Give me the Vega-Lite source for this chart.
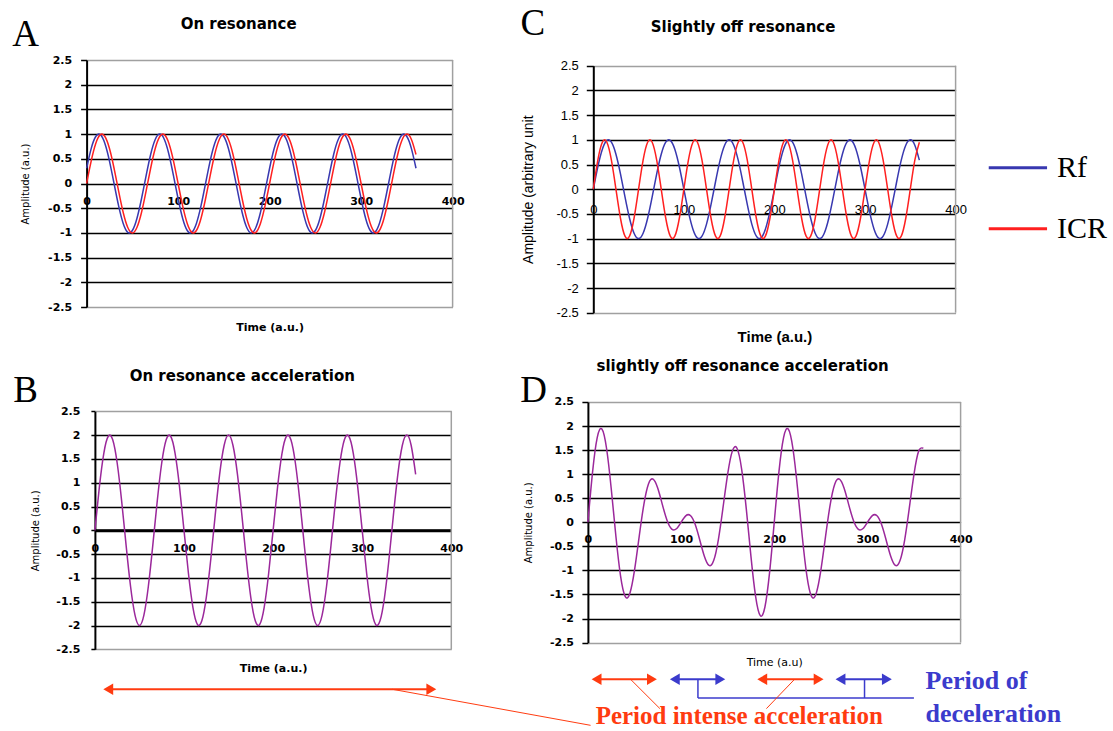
{
"$schema":"https://vega.github.io/schema/vega-lite/v6.json",
"background":"white",
"padding":{"left":11.6,"top":5,"right":4,"bottom":0},
"config":{"view":{"stroke":null},"axis":{"labelColor":"black","titleColor":"black","labelFlush":false,"labelOverlap":false}},
"datasets":{
"signal":[
{"t":0,"rfA":0.309,"icrA":0,"accB":0,"rfC":0,"icrC":0,"accD":0},
{"t":5,"rfA":0.707,"icrA":0.454,"accB":0.908,"rfC":0.454,"icrC":0.588,"accD":1.042},
{"t":10,"rfA":0.951,"icrA":0.809,"accB":1.618,"rfC":0.809,"icrC":0.951,"accD":1.76},
{"t":15,"rfA":0.988,"icrA":0.988,"accB":1.976,"rfC":0.988,"icrC":0.951,"accD":1.939},
{"t":20,"rfA":0.809,"icrA":0.951,"accB":1.902,"rfC":0.951,"icrC":0.588,"accD":1.539},
{"t":25,"rfA":0.454,"icrA":0.707,"accB":1.414,"rfC":0.707,"icrC":0,"accD":0.707},
{"t":30,"rfA":0,"icrA":0.309,"accB":0.618,"rfC":0.309,"icrC":-0.588,"accD":-0.279},
{"t":35,"rfA":-0.454,"icrA":-0.156,"accB":-0.312,"rfC":-0.156,"icrC":-0.951,"accD":-1.107},
{"t":40,"rfA":-0.809,"icrA":-0.588,"accB":-1.176,"rfC":-0.588,"icrC":-0.951,"accD":-1.539},
{"t":45,"rfA":-0.988,"icrA":-0.891,"accB":-1.782,"rfC":-0.891,"icrC":-0.588,"accD":-1.479},
{"t":50,"rfA":-0.951,"icrA":-1,"accB":-2,"rfC":-1,"icrC":0,"accD":-1},
{"t":55,"rfA":-0.707,"icrA":-0.891,"accB":-1.782,"rfC":-0.891,"icrC":0.588,"accD":-0.303},
{"t":60,"rfA":-0.309,"icrA":-0.588,"accB":-1.176,"rfC":-0.588,"icrC":0.951,"accD":0.363},
{"t":65,"rfA":0.156,"icrA":-0.156,"accB":-0.312,"rfC":-0.156,"icrC":0.951,"accD":0.795},
{"t":70,"rfA":0.588,"icrA":0.309,"accB":0.618,"rfC":0.309,"icrC":0.588,"accD":0.897},
{"t":75,"rfA":0.891,"icrA":0.707,"accB":1.414,"rfC":0.707,"icrC":0,"accD":0.707},
{"t":80,"rfA":1,"icrA":0.951,"accB":1.902,"rfC":0.951,"icrC":-0.588,"accD":0.363},
{"t":85,"rfA":0.891,"icrA":0.988,"accB":1.976,"rfC":0.988,"icrC":-0.951,"accD":0.037},
{"t":90,"rfA":0.588,"icrA":0.809,"accB":1.618,"rfC":0.809,"icrC":-0.951,"accD":-0.142},
{"t":95,"rfA":0.156,"icrA":0.454,"accB":0.908,"rfC":0.454,"icrC":-0.588,"accD":-0.134},
{"t":100,"rfA":-0.309,"icrA":0,"accB":0,"rfC":0,"icrC":0,"accD":0},
{"t":105,"rfA":-0.707,"icrA":-0.454,"accB":-0.908,"rfC":-0.454,"icrC":0.588,"accD":0.134},
{"t":110,"rfA":-0.951,"icrA":-0.809,"accB":-1.618,"rfC":-0.809,"icrC":0.951,"accD":0.142},
{"t":115,"rfA":-0.988,"icrA":-0.988,"accB":-1.976,"rfC":-0.988,"icrC":0.951,"accD":-0.037},
{"t":120,"rfA":-0.809,"icrA":-0.951,"accB":-1.902,"rfC":-0.951,"icrC":0.588,"accD":-0.363},
{"t":125,"rfA":-0.454,"icrA":-0.707,"accB":-1.414,"rfC":-0.707,"icrC":0,"accD":-0.707},
{"t":130,"rfA":0,"icrA":-0.309,"accB":-0.618,"rfC":-0.309,"icrC":-0.588,"accD":-0.897},
{"t":135,"rfA":0.454,"icrA":0.156,"accB":0.312,"rfC":0.156,"icrC":-0.951,"accD":-0.795},
{"t":140,"rfA":0.809,"icrA":0.588,"accB":1.176,"rfC":0.588,"icrC":-0.951,"accD":-0.363},
{"t":145,"rfA":0.988,"icrA":0.891,"accB":1.782,"rfC":0.891,"icrC":-0.588,"accD":0.303},
{"t":150,"rfA":0.951,"icrA":1,"accB":2,"rfC":1,"icrC":0,"accD":1},
{"t":155,"rfA":0.707,"icrA":0.891,"accB":1.782,"rfC":0.891,"icrC":0.588,"accD":1.479},
{"t":160,"rfA":0.309,"icrA":0.588,"accB":1.176,"rfC":0.588,"icrC":0.951,"accD":1.539},
{"t":165,"rfA":-0.156,"icrA":0.156,"accB":0.312,"rfC":0.156,"icrC":0.951,"accD":1.107},
{"t":170,"rfA":-0.588,"icrA":-0.309,"accB":-0.618,"rfC":-0.309,"icrC":0.588,"accD":0.279},
{"t":175,"rfA":-0.891,"icrA":-0.707,"accB":-1.414,"rfC":-0.707,"icrC":0,"accD":-0.707},
{"t":180,"rfA":-1,"icrA":-0.951,"accB":-1.902,"rfC":-0.951,"icrC":-0.588,"accD":-1.539},
{"t":185,"rfA":-0.891,"icrA":-0.988,"accB":-1.976,"rfC":-0.988,"icrC":-0.951,"accD":-1.939},
{"t":190,"rfA":-0.588,"icrA":-0.809,"accB":-1.618,"rfC":-0.809,"icrC":-0.951,"accD":-1.76},
{"t":195,"rfA":-0.156,"icrA":-0.454,"accB":-0.908,"rfC":-0.454,"icrC":-0.588,"accD":-1.042},
{"t":200,"rfA":0.309,"icrA":0,"accB":0,"rfC":0,"icrC":0,"accD":0},
{"t":205,"rfA":0.707,"icrA":0.454,"accB":0.908,"rfC":0.454,"icrC":0.588,"accD":1.042},
{"t":210,"rfA":0.951,"icrA":0.809,"accB":1.618,"rfC":0.809,"icrC":0.951,"accD":1.76},
{"t":215,"rfA":0.988,"icrA":0.988,"accB":1.976,"rfC":0.988,"icrC":0.951,"accD":1.939},
{"t":220,"rfA":0.809,"icrA":0.951,"accB":1.902,"rfC":0.951,"icrC":0.588,"accD":1.539},
{"t":225,"rfA":0.454,"icrA":0.707,"accB":1.414,"rfC":0.707,"icrC":0,"accD":0.707},
{"t":230,"rfA":0,"icrA":0.309,"accB":0.618,"rfC":0.309,"icrC":-0.588,"accD":-0.279},
{"t":235,"rfA":-0.454,"icrA":-0.156,"accB":-0.312,"rfC":-0.156,"icrC":-0.951,"accD":-1.107},
{"t":240,"rfA":-0.809,"icrA":-0.588,"accB":-1.176,"rfC":-0.588,"icrC":-0.951,"accD":-1.539},
{"t":245,"rfA":-0.988,"icrA":-0.891,"accB":-1.782,"rfC":-0.891,"icrC":-0.588,"accD":-1.479},
{"t":250,"rfA":-0.951,"icrA":-1,"accB":-2,"rfC":-1,"icrC":0,"accD":-1},
{"t":255,"rfA":-0.707,"icrA":-0.891,"accB":-1.782,"rfC":-0.891,"icrC":0.588,"accD":-0.303},
{"t":260,"rfA":-0.309,"icrA":-0.588,"accB":-1.176,"rfC":-0.588,"icrC":0.951,"accD":0.363},
{"t":265,"rfA":0.156,"icrA":-0.156,"accB":-0.312,"rfC":-0.156,"icrC":0.951,"accD":0.795},
{"t":270,"rfA":0.588,"icrA":0.309,"accB":0.618,"rfC":0.309,"icrC":0.588,"accD":0.897},
{"t":275,"rfA":0.891,"icrA":0.707,"accB":1.414,"rfC":0.707,"icrC":0,"accD":0.707},
{"t":280,"rfA":1,"icrA":0.951,"accB":1.902,"rfC":0.951,"icrC":-0.588,"accD":0.363},
{"t":285,"rfA":0.891,"icrA":0.988,"accB":1.976,"rfC":0.988,"icrC":-0.951,"accD":0.037},
{"t":290,"rfA":0.588,"icrA":0.809,"accB":1.618,"rfC":0.809,"icrC":-0.951,"accD":-0.142},
{"t":295,"rfA":0.156,"icrA":0.454,"accB":0.908,"rfC":0.454,"icrC":-0.588,"accD":-0.134},
{"t":300,"rfA":-0.309,"icrA":0,"accB":0,"rfC":0,"icrC":0,"accD":0},
{"t":305,"rfA":-0.707,"icrA":-0.454,"accB":-0.908,"rfC":-0.454,"icrC":0.588,"accD":0.134},
{"t":310,"rfA":-0.951,"icrA":-0.809,"accB":-1.618,"rfC":-0.809,"icrC":0.951,"accD":0.142},
{"t":315,"rfA":-0.988,"icrA":-0.988,"accB":-1.976,"rfC":-0.988,"icrC":0.951,"accD":-0.037},
{"t":320,"rfA":-0.809,"icrA":-0.951,"accB":-1.902,"rfC":-0.951,"icrC":0.588,"accD":-0.363},
{"t":325,"rfA":-0.454,"icrA":-0.707,"accB":-1.414,"rfC":-0.707,"icrC":0,"accD":-0.707},
{"t":330,"rfA":0,"icrA":-0.309,"accB":-0.618,"rfC":-0.309,"icrC":-0.588,"accD":-0.897},
{"t":335,"rfA":0.454,"icrA":0.156,"accB":0.312,"rfC":0.156,"icrC":-0.951,"accD":-0.795},
{"t":340,"rfA":0.809,"icrA":0.588,"accB":1.176,"rfC":0.588,"icrC":-0.951,"accD":-0.363},
{"t":345,"rfA":0.988,"icrA":0.891,"accB":1.782,"rfC":0.891,"icrC":-0.588,"accD":0.303},
{"t":350,"rfA":0.951,"icrA":1,"accB":2,"rfC":1,"icrC":0,"accD":1},
{"t":355,"rfA":0.707,"icrA":0.891,"accB":1.782,"rfC":0.891,"icrC":0.588,"accD":1.479},
{"t":360,"rfA":0.309,"icrA":0.588,"accB":1.176,"rfC":0.588,"icrC":0.951,"accD":1.539}
],
"arrowsB":[{"start":15,"end":377.6,"phase":"acceleration"}],
"arrowsD":[
{"start":9.3,"end":68.7,"phase":"acceleration"},
{"start":93.3,"end":142.1,"phase":"deceleration"},
{"start":187.1,"end":247.6,"phase":"acceleration"},
{"start":271.1,"end":320.9,"phase":"deceleration"}
]
},
"columns":2,
"spacing":{"row":89,"column":135.3},
"bounds":"flush",
"resolve":{"scale":{"color":"independent"},"legend":{"color":"independent"}},
"concat":[
{
"width":366,"height":247,
"title":{"text":"On resonance","frame":"group","anchor":"middle","dx":-31,"offset":-15.7,"font":"DejaVu Sans","fontSize":15,"fontWeight":"bold","color":"black"},
"layer":[
{"data":{"name":"signal"},"mark":{"type":"line","color":"#3838b0","strokeWidth":1.5,"interpolate":"natural"},
"encoding":{
"x":{"field":"t","type":"quantitative","scale":{"domain":[0,400],"nice":false,"zero":false},
"axis":{"orient":"bottom","offset":-123.5,"values":[0,100,200,300,400],"tickCount":20,"ticks":false,"domain":false,"grid":false,"labelPadding":11.5,"labelFont":"DejaVu Sans","labelFontSize":11,"labelFontWeight":"bold","labelExpr":"datum.value + ''","title":"Time (a.u.)","titleFont":"DejaVu Sans","titleFontSize":11,"titleFontWeight":"bold","titleY":144.3,"titleBaseline":"middle"}},
"y":{"field":"rfA","type":"quantitative","scale":{"domain":[-2.5,2.5],"nice":false,"zero":false},
"axis":{"values":[-2.5,-2,-1.5,-1,-0.5,0,0.5,1,1.5,2,2.5],"tickCount":20,"grid":true,"gridColor":{"condition":{"test":"abs(datum.value) > 2.4","value":"#a0a0a0"},"value":"black"},"gridWidth":1.5,"domain":true,"domainColor":"black","domainWidth":2,"ticks":true,"tickSize":6,"tickColor":"black","tickWidth":1.5,"labelPadding":9,"labelFont":"DejaVu Sans","labelFontSize":11,"labelFontWeight":"bold","labelExpr":"datum.value + ''","title":"Amplitude (a.u.)","titleFont":"DejaVu Sans","titleFontSize":10,"titleFontWeight":"normal","titleX":-61,"titleBaseline":"middle"}}}},
{"data":{"name":"signal"},"mark":{"type":"line","color":"#ff2020","strokeWidth":1.5,"interpolate":"natural"},
"encoding":{"x":{"field":"t","type":"quantitative"},"y":{"field":"icrA","type":"quantitative"}}},
{"data":{"values":[{}]},"mark":{"type":"rule","color":"#a0a0a0","strokeWidth":1.5},"encoding":{"x":{"datum":400},"y":{"datum":-2.5},"y2":{"datum":2.5}}},
{"data":{"values":[{}]},"mark":{"type":"text","text":"A","font":"Liberation Serif","fontSize":37,"align":"center","baseline":"alphabetic","color":"black"},"encoding":{"x":{"datum":-66.7},"y":{"datum":2.783}}}
]
},
{
"width":368,"height":252.7,
"title":{"text":"Slightly off resonance","frame":"group","anchor":"middle","dx":-28.8,"offset":-30.4,"font":"DejaVu Sans","fontSize":15,"fontWeight":"bold","color":"black"},
"layer":[
{"data":{"name":"signal"},"transform":[{"fold":["rfC","icrC"],"as":["series","amp"]}],
"mark":{"type":"line","strokeWidth":1.5,"interpolate":"natural"},
"encoding":{
"x":{"field":"t","type":"quantitative","scale":{"domain":[0,400],"nice":false,"zero":false,"range":[5.4,367.7]},
"axis":{"orient":"bottom","offset":-123.5,"values":[0,100,200,300,400],"tickCount":20,"ticks":false,"domain":false,"grid":false,"labelPadding":14,"labelFont":"Liberation Sans","labelFontSize":13,"labelFontWeight":"normal","labelExpr":"datum.value + ''","title":"Time (a.u.)","titleFont":"Liberation Sans","titleFontSize":15,"titleFontWeight":"bold","titleY":147.5,"titleBaseline":"middle"}},
"y":{"field":"amp","type":"quantitative","scale":{"domain":[-2.5,2.5],"nice":false,"zero":false,"range":[252.7,5.7]},
"axis":{"offset":-5.4,"values":[-2.5,-2,-1.5,-1,-0.5,0,0.5,1,1.5,2,2.5],"tickCount":20,"grid":true,"gridColor":{"condition":{"test":"abs(datum.value) > 2.4","value":"#a0a0a0"},"value":"black"},"gridWidth":1.5,"domain":true,"domainColor":"black","domainWidth":2,"ticks":true,"tickSize":7,"tickColor":"black","tickWidth":1.5,"labelPadding":8,"labelFont":"Liberation Sans","labelFontSize":13,"labelFontWeight":"normal","labelExpr":"datum.value + ''","title":"Amplitude (arbitrary unit","titleFont":"Liberation Sans","titleFontSize":14,"titleFontWeight":"normal","titleX":-64.4,"titleBaseline":"middle"}},
"color":{"field":"series","type":"nominal","scale":{"domain":["rfC","icrC"],"range":["#3838b0","#ff2020"]},
"legend":{"orient":"none","legendX":399,"legendY":76.7,"title":null,"symbolType":"stroke","symbolSize":3400,"symbolStrokeWidth":3,"labelFont":"Liberation Serif","labelFontSize":30,"labelColor":"black","labelOffset":8,"rowPadding":15,"padding":0,"labelExpr":"datum.label == 'rfC' ? 'Rf' : 'ICR'"}}}},
{"data":{"values":[{}]},"mark":{"type":"rule","color":"#a0a0a0","strokeWidth":1.5},"encoding":{"x":{"datum":400},"y":{"datum":-2.5},"y2":{"datum":2.5}}},
{"data":{"values":[{}]},"mark":{"type":"text","text":"C","font":"Liberation Serif","fontSize":37,"align":"center","baseline":"alphabetic","color":"black"},"encoding":{"x":{"datum":-66.7},"y":{"datum":3.121}}}
]
},
{
"width":365,"height":247.3,
"title":{"text":"On resonance acceleration","frame":"group","anchor":"middle","dx":-26.8,"offset":-12,"font":"DejaVu Sans","fontSize":15,"fontWeight":"bold","color":"black"},
"layer":[
{"data":{"name":"signal"},"mark":{"type":"line","color":"#9b289b","strokeWidth":1.5,"interpolate":"natural"},
"encoding":{
"x":{"field":"t","type":"quantitative","scale":{"domain":[0,400],"nice":false,"zero":false,"range":[8.3,364.7]},
"axis":{"orient":"bottom","offset":-119,"values":[0,100,200,300,400],"tickCount":20,"ticks":false,"domain":true,"domainColor":"black","domainWidth":3,"grid":false,"labelPadding":12,"labelFont":"DejaVu Sans","labelFontSize":11,"labelFontWeight":"bold","labelExpr":"datum.value + ''","title":"Time (a.u.)","titleFont":"DejaVu Sans","titleFontSize":11,"titleFontWeight":"bold","titleY":138.3,"titleBaseline":"middle"}},
"y":{"field":"accB","type":"quantitative","scale":{"domain":[-2.5,2.5],"nice":false,"zero":false,"range":[247.3,9.3]},
"axis":{"offset":-8.3,"values":[-2.5,-2,-1.5,-1,-0.5,0,0.5,1,1.5,2,2.5],"tickCount":20,"grid":true,"gridColor":{"condition":{"test":"abs(datum.value) > 2.4","value":"#a0a0a0"},"value":"black"},"gridWidth":1.5,"domain":true,"domainColor":"black","domainWidth":2,"ticks":true,"tickSize":4,"tickColor":"black","tickWidth":1.5,"labelPadding":11,"labelFont":"DejaVu Sans","labelFontSize":11,"labelFontWeight":"bold","labelExpr":"datum.value + ''","title":"Amplitude (a.u.)","titleFont":"DejaVu Sans","titleFontSize":10,"titleFontWeight":"normal","titleX":-59.3,"titleBaseline":"middle"}}}},
{"data":{"values":[{}]},"mark":{"type":"rule","color":"#a0a0a0","strokeWidth":1.5},"encoding":{"x":{"datum":400},"y":{"datum":-2.5},"y2":{"datum":2.5}}},
{"data":{"values":[{}]},"mark":{"type":"text","text":"B","font":"Liberation Serif","fontSize":37,"align":"center","baseline":"alphabetic","color":"black"},"encoding":{"x":{"datum":-77.8},"y":{"datum":2.695}}},
{"data":{"name":"arrowsB"},"mark":{"type":"rule","color":"#ff3b10","strokeWidth":2},"encoding":{"x":{"field":"start","type":"quantitative"},"x2":{"field":"end"},"y":{"datum":-3.34}}},
{"data":{"name":"arrowsB"},"mark":{"type":"point","shape":"triangle-left","filled":true,"size":130,"opacity":1,"color":"#ff3b10","strokeWidth":0},"encoding":{"x":{"field":"start","type":"quantitative"},"y":{"datum":-3.34}}},
{"data":{"name":"arrowsB"},"mark":{"type":"point","shape":"triangle-right","filled":true,"size":130,"opacity":1,"color":"#ff3b10","strokeWidth":0},"encoding":{"x":{"field":"end","type":"quantitative"},"y":{"datum":-3.34}}},
{"data":{"values":[{}]},"mark":{"type":"rule","color":"#ff3b10","strokeWidth":1},"encoding":{"x":{"datum":333.8},"x2":{"datum":556.3},"y":{"datum":-3.34},"y2":{"datum":-4.097}}}
]
},
{
"width":372.7,"height":240.6,
"title":{"text":"slightly off resonance acceleration","frame":"group","anchor":"middle","dx":-31.65,"offset":-2,"font":"DejaVu Sans","fontSize":15,"fontWeight":"bold","color":"black"},
"layer":[
{"data":{"name":"signal"},"mark":{"type":"line","color":"#9b289b","strokeWidth":1.5,"interpolate":"natural"},
"encoding":{
"x":{"field":"t","type":"quantitative","scale":{"domain":[0,400],"nice":false,"zero":false},
"axis":{"orient":"bottom","offset":-120.3,"values":[0,100,200,300,400],"tickCount":20,"ticks":false,"domain":false,"grid":false,"labelPadding":11.5,"labelFont":"DejaVu Sans","labelFontSize":11,"labelFontWeight":"bold","labelExpr":"datum.value + ''","title":"Time (a.u)","titleFont":"DejaVu Sans","titleFontSize":11,"titleFontWeight":"normal","titleY":140.7,"titleBaseline":"middle"}},
"y":{"field":"accD","type":"quantitative","scale":{"domain":[-2.5,2.5],"nice":false,"zero":false},
"axis":{"values":[-2.5,-2,-1.5,-1,-0.5,0,0.5,1,1.5,2,2.5],"tickCount":20,"grid":true,"gridColor":{"condition":{"test":"abs(datum.value) > 2.4","value":"#a0a0a0"},"value":"black"},"gridWidth":1.5,"domain":true,"domainColor":"black","domainWidth":2,"ticks":true,"tickSize":6,"tickColor":"black","tickWidth":1.5,"labelPadding":8.4,"labelFont":"DejaVu Sans","labelFontSize":11,"labelFontWeight":"bold","labelExpr":"datum.value + ''","title":"Amplitude (a.u.)","titleFont":"DejaVu Sans","titleFontSize":10,"titleFontWeight":"normal","titleX":-59.6,"titleBaseline":"middle"}}}},
{"data":{"values":[{}]},"mark":{"type":"rule","color":"#a0a0a0","strokeWidth":1.5},"encoding":{"x":{"datum":400},"y":{"datum":-2.5},"y2":{"datum":2.5}}},
{"data":{"values":[{}]},"mark":{"type":"text","text":"D","font":"Liberation Serif","fontSize":37,"align":"center","baseline":"alphabetic","color":"black"},"encoding":{"x":{"datum":-58.3},"y":{"datum":2.5}}},
{"data":{"name":"arrowsD"},"mark":{"type":"rule","strokeWidth":2},"encoding":{"x":{"field":"start","type":"quantitative"},"x2":{"field":"end"},"y":{"datum":-3.263},"color":{"field":"phase","type":"nominal","scale":{"domain":["acceleration","deceleration"],"range":["#ff3b10","#3b3bcc"]},"legend":null}}},
{"data":{"name":"arrowsD"},"mark":{"type":"point","shape":"triangle-left","filled":true,"size":130,"opacity":1,"strokeWidth":0},"encoding":{"x":{"field":"start","type":"quantitative"},"y":{"datum":-3.263},"color":{"field":"phase","type":"nominal","legend":null}}},
{"data":{"name":"arrowsD"},"mark":{"type":"point","shape":"triangle-right","filled":true,"size":130,"opacity":1,"strokeWidth":0},"encoding":{"x":{"field":"end","type":"quantitative"},"y":{"datum":-3.263},"color":{"field":"phase","type":"nominal","legend":null}}},
{"data":{"values":[{}]},"mark":{"type":"rule","color":"#3b3bcc","strokeWidth":1.5},"encoding":{"x":{"datum":118.1},"y":{"datum":-3.263},"y2":{"datum":-3.651}}},
{"data":{"values":[{}]},"mark":{"type":"rule","color":"#3b3bcc","strokeWidth":1.5},"encoding":{"x":{"datum":296.9},"y":{"datum":-3.263},"y2":{"datum":-3.651}}},
{"data":{"values":[{}]},"mark":{"type":"rule","color":"#3b3bcc","strokeWidth":1.5},"encoding":{"x":{"datum":118.1},"x2":{"datum":349.9},"y":{"datum":-3.651}}},
{"data":{"values":[{}]},"mark":{"type":"rule","color":"#ff3b10","strokeWidth":1},"encoding":{"x":{"datum":45.8},"x2":{"datum":77.3},"y":{"datum":-3.263},"y2":{"datum":-3.872}}},
{"data":{"values":[{}]},"mark":{"type":"rule","color":"#ff3b10","strokeWidth":1},"encoding":{"x":{"datum":221.8},"x2":{"datum":191.6},"y":{"datum":-3.263},"y2":{"datum":-3.872}}},
{"data":{"values":[{}]},"mark":{"type":"text","text":"Period intense acceleration","font":"Liberation Serif","fontSize":25,"fontWeight":"bold","color":"#ff3b10","align":"left","baseline":"alphabetic"},"encoding":{"x":{"datum":8.3},"y":{"datum":-4.2}}},
{"data":{"values":[{}]},"mark":{"type":"text","text":["Period of","deceleration"],"lineHeight":33.4,"font":"Liberation Serif","fontSize":26,"fontWeight":"bold","color":"#3b3bcc","align":"left","baseline":"alphabetic"},"encoding":{"x":{"datum":362.4},"y":{"datum":-3.456}}}
]
}
]
}
